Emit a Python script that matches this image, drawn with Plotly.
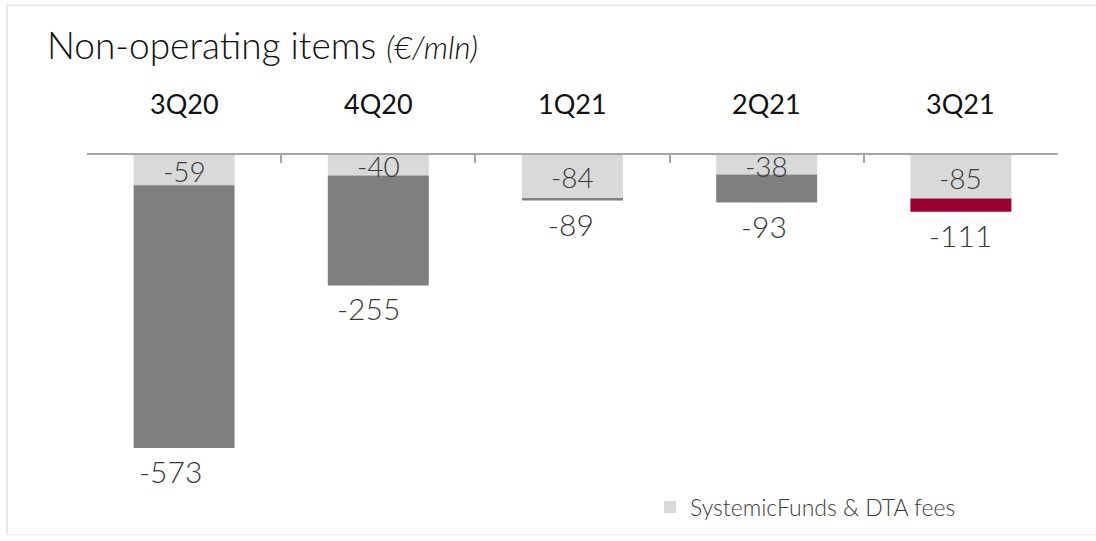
import plotly.graph_objects as go

quarters = ["3Q20", "4Q20", "1Q21", "2Q21", "3Q21"]
fees = [-59, -40, -84, -38, -85]
totals = [-573, -255, -89, -93, -111]
other = [t - f for t, f in zip(totals, fees)]
other_colors = ["#7f7f7f", "#7f7f7f", "#7f7f7f", "#7f7f7f", "#990030"]
total_label_xshift = [-14, -10, -2, -3, 0]

W, H = 1096, 541
L, R, T, B = 87, 38, 155, 27
YMIN = -696
pw = W - L - R
ph = H - T - B

def px_x(px):
    return (px - L) / pw

def px_y(py):
    return 1 - (py - T) / ph

FONT = "Lato"
TXT = "#3a3a3a"

fig = go.Figure()
fig.add_trace(go.Bar(
    x=quarters, y=fees, name="SystemicFunds & DTA fees",
    marker=dict(color="#d9d9d9", line=dict(width=0)), width=0.52,
    showlegend=True,
))
fig.add_trace(go.Bar(
    x=quarters, y=other, name="Other",
    marker=dict(color=other_colors, line=dict(width=0)), width=0.52,
    showlegend=False,
))

annotations = []
for q, f, t, xs in zip(quarters, fees, totals, total_label_xshift):
    annotations.append(dict(
        x=q, y=f / 2, xref="x", yref="y", text=str(f), showarrow=False,
        yshift=-1, font=dict(family=FONT, size=28, color=TXT, weight=300),
    ))
    annotations.append(dict(
        x=q, y=t, xref="x", yref="y", text=str(t), showarrow=False,
        yanchor="top", yshift=-3, xshift=xs,
        font=dict(family=FONT, size=30, color=TXT, weight=300),
    ))
    annotations.append(dict(
        x=q, y=px_y(103), xref="x", yref="paper", text=q, showarrow=False,
        yanchor="middle", font=dict(family=FONT, size=27, color="#111111", weight=400),
    ))

annotations.append(dict(
    x=px_x(45), y=px_y(44), xref="paper", yref="paper", xanchor="left", yanchor="middle",
    text="Non-operating items <i><span style='font-size:31px'>(€/mln)</span></i>",
    showarrow=False, font=dict(family=FONT, size=37, color="#111111", weight=300),
))

shapes = [
    dict(type="line", xref="paper", yref="paper", x0=px_x(7), x1=px_x(7), y0=px_y(4), y1=px_y(538),
         line=dict(color="#e8e8e8", width=2)),
    dict(type="line", xref="paper", yref="paper", x0=px_x(7), x1=px_x(1096), y0=px_y(4), y1=px_y(4),
         line=dict(color="#e8e8e8", width=2)),
    dict(type="line", xref="paper", yref="paper", x0=px_x(7), x1=px_x(1096), y0=px_y(538), y1=px_y(538),
         line=dict(color="#eeeeee", width=1)),
]

fig.update_layout(
    width=W, height=H, barmode="relative",
    margin=dict(l=L, r=R, t=T, b=B, pad=0),
    paper_bgcolor="white", plot_bgcolor="white",
    annotations=annotations, shapes=shapes,
    legend=dict(x=px_x(650), y=px_y(510), xanchor="left", yanchor="middle",
                font=dict(family=FONT, size=23, color=TXT, weight=300),
                itemwidth=30, bgcolor="rgba(0,0,0,0)", tracegroupgap=0),
    xaxis=dict(side="top", showline=True, linecolor="#a6a6a6", linewidth=1.5,
               ticks="inside", tickson="boundaries", ticklen=8, tickcolor="#a6a6a6",
               tickwidth=1.5, showticklabels=False, showgrid=False, zeroline=False,
               range=[-0.5, 4.5]),
    yaxis=dict(range=[YMIN, 0], showticklabels=False, showgrid=False, zeroline=False,
               showline=False, ticks=""),
)

fig.write_html("out.html", config={"displayModeBar": False},
               post_script="document.body.style.margin='0px';")
